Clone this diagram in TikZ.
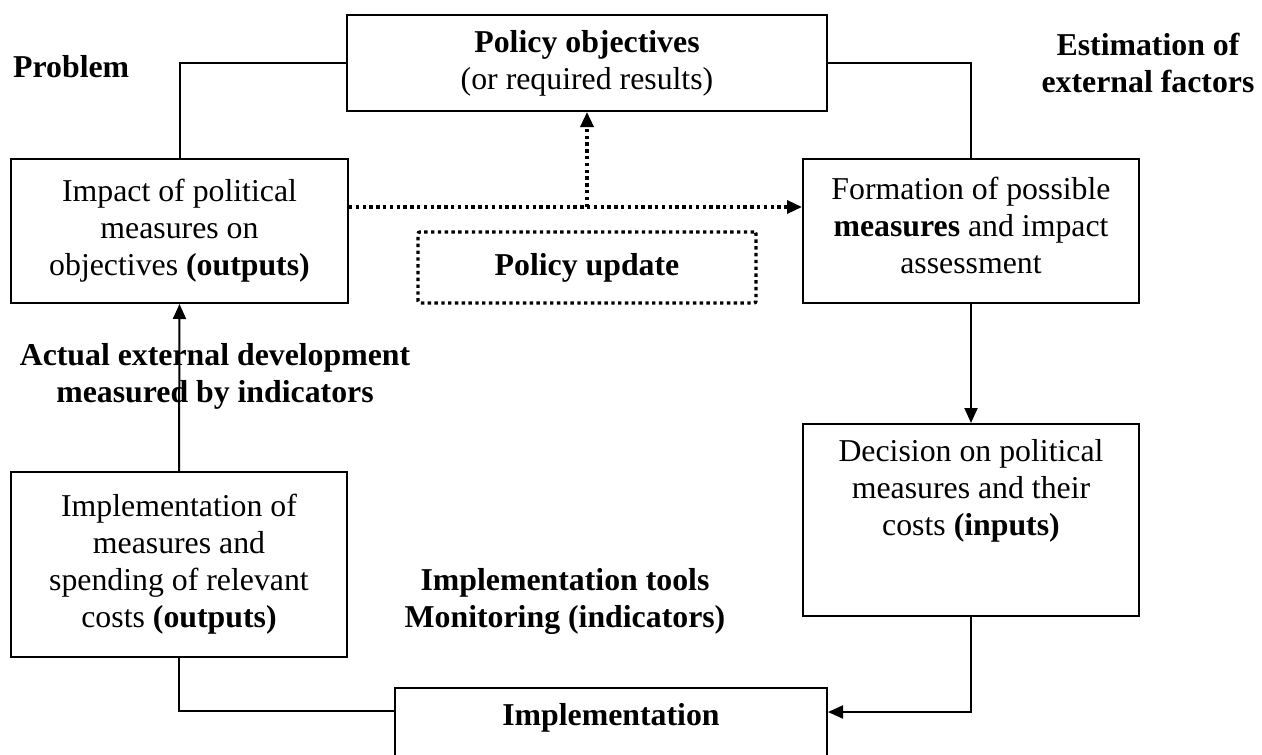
\documentclass[tikz,border=0pt]{standalone}
\usepackage{fontspec}
\setmainfont{Liberation Serif}
\usetikzlibrary{arrows.meta}
\begin{document}
\begin{tikzpicture}[x=1pt,y=-1pt,
  box/.style={draw, line width=2pt, align=center, inner sep=0pt},
  txt/.style={font=\fontsize{31.8}{37}\selectfont, align=center, inner sep=0pt},
  btxt/.style={font=\fontsize{31.8}{37}\selectfont\bfseries, align=center, inner sep=0pt},
  con/.style={line width=2pt},
  tip/.style={-{Triangle[length=15pt,width=13pt]}},
  dots/.style={line width=3.4pt, dash pattern=on 3.4pt off 3.4pt}
]
\useasboundingbox (0,0) rectangle (1262,755);
\clip (0,0) rectangle (1262,755);

% boxes
\node[box, txt, minimum width=480pt, minimum height=96pt] (pol) at (587,63)
  {\textbf{Policy objectives}\\(or required results)};
\node[box, txt, minimum width=337pt, minimum height=144pt] (imp) at (179.5,231)
  {Impact of political\\measures on\\objectives \textbf{(outputs)}};
\node[box, minimum width=336pt, minimum height=144pt] (form) at (971,231) {};
\node[txt] (formt) at (971,225)
  {Formation of possible\\\textbf{measures} and impact\\assessment};
\node[box, minimum width=336pt, minimum height=192pt] (dec) at (971,520) {};
\node[txt] (dect) at (971,491)
  {Decision on political\\measures and their\\costs \textbf{(inputs)}};
\node[box, txt, minimum width=336pt, minimum height=185pt] (implm) at (179,564.5)
  {Implementation of\\measures and\\spending of relevant\\costs \textbf{(outputs)}};
\node[box, minimum width=432pt, minimum height=100pt, anchor=north] (impl) at (611,687) {};
\node[btxt] (implt) at (611,718) {Implementation};
\node[btxt, draw, dots, rounded corners=2pt, minimum width=338pt, minimum height=71pt] (pu) at (587,267.5)
  {Policy update};

% free labels
\node[btxt, anchor=west] (prob) at (13,67) {Problem};
\node[btxt] (est) at (1148,63) {Estimation of\\external factors};
\node[btxt] (act) at (215,376) {Actual external development\\measured by indicators};
\node[btxt] (tools) at (565,601) {Implementation tools\\Monitoring (indicators)};

% connectors
\draw[con] (imp.north) |- (pol.west);
\draw[con] (pol.east) -| (form.north);
\draw[con, tip] (form.south) -- (dec.north);
\draw[con, tip] (dec.south) |- ([yshift=-25pt]impl.north east);
\draw[con] ([yshift=-24pt]impl.north west) -| (implm.south);
\draw[con, tip] (implm.north) -- (imp.south);
\coordinate (mid) at (587,207);
\draw[dots, tip] ([yshift=24pt]imp.east) -- ([yshift=24pt]form.west);
\draw[dots, tip] (mid) -- (pol.south);
\end{tikzpicture}
\end{document}
